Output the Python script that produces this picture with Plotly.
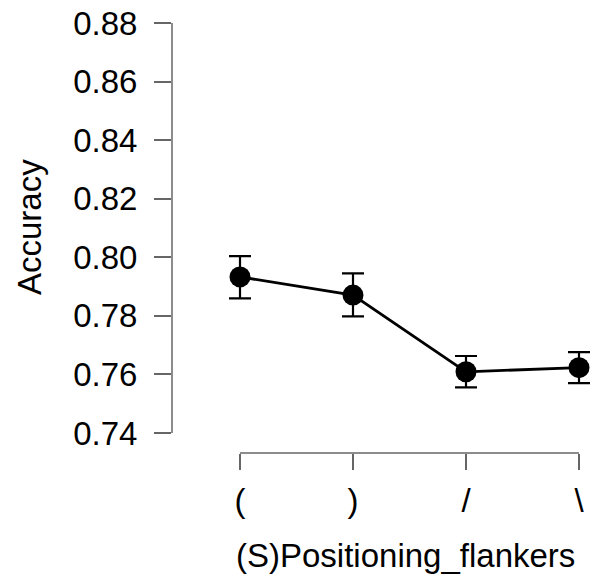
import plotly.graph_objects as go

# Accuracy by flanker positioning, mean with error bars
categories = ["(", ")", "/", "\\"]
accuracy = [0.7933, 0.7871, 0.7609, 0.7623]
err_hi = [0.0071, 0.0074, 0.0054, 0.0053]
err_lo = [0.0073, 0.0073, 0.0053, 0.0053]
y_ticks = [0.74, 0.76, 0.78, 0.80, 0.82, 0.84, 0.86, 0.88]
x_title = "(S)Positioning_flankers"
y_title = "Accuracy"

W, H = 598, 575
left, right, top, bottom = 172, 0, 23, 122
FONT = "Liberation Sans, Arial, sans-serif"
FS = 33
AX = "#666666"

# pixel-based ranges so ticks land where the frame expects them
plot_h = H - top - bottom
plot_w = W - left - right
y_span = y_ticks[-1] - y_ticks[0]
px_per_y = 410 / y_span
y_lo = y_ticks[0] - (plot_h - 410) / px_per_y
px_per_x = 113
x_lo = -(240 - left) / px_per_x
x_hi = x_lo + plot_w / px_per_x


def px_to_paper_x(px):
    return (px - left) / plot_w


def px_to_paper_y(py):
    return (H - bottom - py) / plot_h


fig = go.Figure()
fig.add_trace(go.Scatter(
    x=categories, y=accuracy,
    mode="lines+markers",
    line=dict(color="black", width=2.8),
    marker=dict(color="black", size=21),
    error_y=dict(type="data", symmetric=False, array=err_hi, arrayminus=err_lo,
                 color="black", thickness=2.2, width=11),
    cliponaxis=False,
    showlegend=False,
))

# R-style axis lines spanning only the tick range
fig.add_shape(type="line", xref="paper", yref="y", x0=0, x1=0,
              y0=y_ticks[0], y1=y_ticks[-1], line=dict(color=AX, width=1.5))
fig.add_shape(type="line", xref="x", yref="paper", x0=0, x1=len(categories) - 1,
              y0=0, y1=0, line=dict(color=AX, width=1.5))

# axis titles
fig.add_annotation(text=x_title, xref="paper", yref="paper",
                   x=px_to_paper_x(405), y=px_to_paper_y(555),
                   xanchor="center", yanchor="middle", showarrow=False,
                   font=dict(family=FONT, size=FS, color="black"))
fig.add_annotation(text=y_title, xref="paper", yref="paper",
                   x=px_to_paper_x(29), y=px_to_paper_y(227),
                   xanchor="center", yanchor="middle", showarrow=False,
                   textangle=-90,
                   font=dict(family=FONT, size=FS, color="black"))

fig.update_xaxes(
    type="category", range=[x_lo, x_hi],
    showgrid=False, zeroline=False, showline=False,
    ticks="outside", ticklen=16, tickwidth=1.5, tickcolor=AX,
    ticklabelstandoff=2,
    tickfont=dict(family=FONT, size=FS, color="black"),
)
fig.update_yaxes(
    range=[y_lo, y_ticks[-1]],
    tickvals=y_ticks, ticktext=[f"{v:.2f}" for v in y_ticks],
    showgrid=False, zeroline=False, showline=False,
    ticks="outside", ticklen=17, tickwidth=1.5, tickcolor=AX,
    ticklabelstandoff=10,
    tickfont=dict(family=FONT, size=FS, color="black"),
)
fig.update_layout(
    width=W, height=H,
    margin=dict(l=left, r=right, t=top, b=bottom, autoexpand=False),
    paper_bgcolor="white", plot_bgcolor="white",
)
fig.write_html("out.html")
